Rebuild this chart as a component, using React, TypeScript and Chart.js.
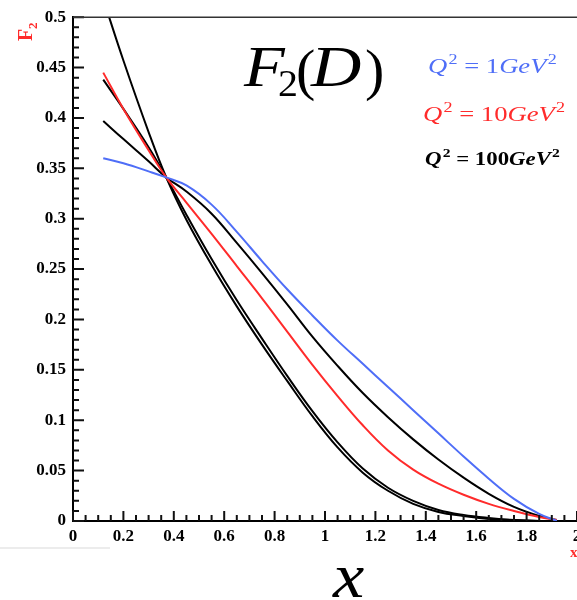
import React, { useEffect, useRef } from "react";
import { Chart, registerables } from "chart.js";

Chart.register(...registerables);

// shared x positions (momentum fraction x)
const xValues = [0.12, 0.2, 0.3, 0.37, 0.45, 0.55, 0.65, 0.75, 0.85, 0.95, 1.05, 1.15, 1.25, 1.35, 1.45, 1.55, 1.65, 1.75, 1.85, 1.92];

// Q^2 = 1 GeV^2 (blue)
const blueQ1 = [0.36, 0.355, 0.347, 0.341, 0.333, 0.314, 0.287, 0.258, 0.23, 0.204, 0.179, 0.156, 0.133, 0.11, 0.087, 0.064, 0.042, 0.022, 0.007, 0.0];
// Q^2 = 10 GeV^2 (red)
const redQ10 = [0.445, 0.409, 0.368, 0.341, 0.316, 0.285, 0.253, 0.221, 0.188, 0.155, 0.124, 0.095, 0.07, 0.051, 0.037, 0.026, 0.017, 0.01, 0.004, 0.001];
// Q^2 = 100 GeV^2 (black)
const blackA = [0.397, 0.379, 0.357, 0.341, 0.327, 0.305, 0.276, 0.246, 0.215, 0.183, 0.154, 0.127, 0.103, 0.081, 0.061, 0.043, 0.027, 0.014, 0.005, 0.001];
// further black curves
const blackB = [0.438, 0.409, 0.371, 0.341, 0.304, 0.26, 0.219, 0.181, 0.144, 0.109, 0.078, 0.052, 0.033, 0.02, 0.011, 0.006, 0.003, 0.001, 0.0, 0.0];
const blackC = [0.518, 0.457, 0.386, 0.341, 0.299, 0.254, 0.213, 0.175, 0.139, 0.104, 0.073, 0.048, 0.03, 0.017, 0.009, 0.005, 0.002, 0.001, 0.0, 0.0];

const xTickLabels = ["0", "0.2", "0.4", "0.6", "0.8", "1", "1.2", "1.4", "1.6", "1.8", "2"];
const yTickLabels = ["0", "0.05", "0.1", "0.15", "0.2", "0.25", "0.3", "0.35", "0.4", "0.45", "0.5"];

const BLUE = "#4f6ef7";
const RED = "#ff2b2b";
const SERIF = '"Liberation Serif", "Times New Roman", serif';

type Run = { t: string; f: string; dy?: number; gap?: number };

function drawRuns(ctx: CanvasRenderingContext2D, x: number, y: number, runs: Run[], color: string, sx: number) {
  ctx.save();
  ctx.translate(x, y);
  ctx.scale(sx, 1);
  ctx.fillStyle = color;
  ctx.textBaseline = "alphabetic";
  ctx.textAlign = "left";
  let cx = 0;
  for (const r of runs) {
    ctx.font = r.f;
    ctx.fillText(r.t, cx, r.dy || 0);
    cx += ctx.measureText(r.t).width + (r.gap || 0);
  }
  ctx.restore();
}

function glyph(ctx: CanvasRenderingContext2D, t: string, font: string, x: number, y: number, sx: number) {
  ctx.save();
  ctx.translate(x, y);
  ctx.scale(sx, 1);
  ctx.font = font;
  ctx.fillText(t, 0, 0);
  ctx.restore();
}

const decorPlugin = {
  id: "decor",
  afterDraw(chart: any) {
    const { ctx, chartArea: a, scales } = chart;
    const xs = scales.x;
    const ys = scales.y;
    ctx.save();
    ctx.strokeStyle = "#111";
    ctx.lineWidth = 2;
    ctx.beginPath();
    for (let i = 0; i <= 50; i++) {
      const py = ys.getPixelForValue(i * 0.01);
      const len = i % 5 === 0 ? 11 : 6;
      ctx.moveTo(a.left, py);
      ctx.lineTo(a.left + len, py);
    }
    for (let i = 0; i <= 40; i++) {
      const px = xs.getPixelForValue(i * 0.05);
      const len = i % 4 === 0 ? 10 : 6;
      ctx.moveTo(px, a.bottom);
      ctx.lineTo(px, a.bottom - len);
    }
    ctx.stroke();
    // top frame
    ctx.strokeStyle = "#333";
    ctx.lineWidth = 1.5;
    ctx.beginPath();
    ctx.moveTo(a.left, a.top);
    ctx.lineTo(a.right + 30, a.top);
    ctx.stroke();
    // faint grey line
    ctx.strokeStyle = "#ececec";
    ctx.lineWidth = 2;
    ctx.beginPath();
    ctx.moveTo(0, 548);
    ctx.lineTo(110, 548);
    ctx.stroke();

    // F_2(D) title
    ctx.fillStyle = "#000";
    ctx.textBaseline = "alphabetic";
    ctx.textAlign = "left";
    glyph(ctx, "F", `italic 58px ${SERIF}`, 244, 86, 1.15);
    glyph(ctx, "2", `38px ${SERIF}`, 278, 96, 1.05);
    glyph(ctx, "(", `58px ${SERIF}`, 296, 89, 1.0);
    glyph(ctx, "D", `italic 58px ${SERIF}`, 311, 86, 1.2);
    glyph(ctx, ")", `58px ${SERIF}`, 365, 89, 1.0);

    // legend texts
    const it = (s: number) => `italic ${s}px ${SERIF}`;
    const up = (s: number) => `${s}px ${SERIF}`;
    drawRuns(ctx, 428, 73, [
      { t: "Q", f: it(22), gap: 1 },
      { t: "2", f: up(15), dy: -9 },
      { t: " = ", f: up(22) },
      { t: "1", f: up(22) },
      { t: "GeV", f: it(22), gap: 1 },
      { t: "2", f: up(15), dy: -9 },
    ], BLUE, 1.21);
    drawRuns(ctx, 423, 121, [
      { t: "Q", f: it(22), gap: 1 },
      { t: "2", f: up(15), dy: -9 },
      { t: " = ", f: up(22) },
      { t: "10", f: up(22) },
      { t: "GeV", f: it(22), gap: 1 },
      { t: "2", f: up(15), dy: -9 },
    ], RED, 1.21);
    drawRuns(ctx, 425, 165, [
      { t: "Q", f: `bold italic 19px ${SERIF}`, gap: 1 },
      { t: "2", f: `bold 13px ${SERIF}`, dy: -8 },
      { t: " = ", f: `bold 19px ${SERIF}` },
      { t: "100", f: `bold 19px ${SERIF}` },
      { t: "GeV", f: `bold italic 19px ${SERIF}`, gap: 1 },
      { t: "2", f: `bold 13px ${SERIF}`, dy: -8 },
    ], "#000", 1.2);

    // red axis labels
    ctx.save();
    ctx.translate(32, 41);
    ctx.rotate(-Math.PI / 2);
    ctx.fillStyle = RED;
    ctx.font = `bold 20px ${SERIF}`;
    ctx.fillText("F", 0, 0);
    ctx.font = `bold 13px ${SERIF}`;
    ctx.fillText("2", 12, 5);
    ctx.restore();
    ctx.fillStyle = RED;
    ctx.font = `bold 15px ${SERIF}`;
    ctx.fillText("x", 570, 557);

    // big x
    ctx.fillStyle = "#000";
    glyph(ctx, "x", `italic 64px ${SERIF}`, 333, 597, 1.1);
    ctx.restore();
  },
};

export default function App() {
  const ref = useRef<HTMLCanvasElement | null>(null);
  useEffect(() => {
    if (!ref.current) return;
    const mk = (data: number[], color: string) => ({
      data: xValues.map((x, i) => ({ x, y: data[i] })),
      borderColor: color,
      backgroundColor: color,
      borderWidth: 2,
      pointRadius: 0,
      tension: 0.4,
      fill: false,
    });
    const chart = new Chart(ref.current, {
      type: "line",
      data: {
        datasets: [
          { label: "Q2=1", ...mk(blueQ1, BLUE) },
          { label: "Q2=10", ...mk(redQ10, RED) },
          { label: "Q2=100", ...mk(blackA, "#000") },
          { label: "b", ...mk(blackB, "#000") },
          { label: "c", ...mk(blackC, "#000") },
        ],
      },
      options: {
        animation: false,
        responsive: false,
        layout: { padding: { left: 0, top: 14, right: 23, bottom: 0 } },
        plugins: { legend: { display: false }, tooltip: { enabled: false }, title: { display: false } },
        scales: {
          x: {
            type: "linear",
            min: 0,
            max: 2,
            grid: { display: false, drawTicks: false },
            border: { display: true, color: "#000", width: 2 },
            ticks: {
              stepSize: 0.2,
              padding: 5,
              color: "#000",
              maxRotation: 0,
              autoSkip: false,
              font: { family: SERIF, size: 17, weight: "bold" },
              callback: (_v: any, i: number) => xTickLabels[i],
            },
            afterFit: (s: any) => { s.height = 79; },
          },
          y: {
            type: "linear",
            min: 0,
            max: 0.5,
            grid: { display: false, drawTicks: false },
            border: { display: true, color: "#000", width: 2 },
            ticks: {
              stepSize: 0.05,
              padding: 7,
              color: "#000",
              autoSkip: false,
              font: { family: SERIF, size: 17, weight: "bold" },
              callback: (_v: any, i: number) => yTickLabels[i],
            },
            afterFit: (s: any) => { s.width = 73; },
          },
        },
      },
      plugins: [decorPlugin],
    });
    return () => chart.destroy();
  }, []);
  return (
    <div style={{ position: "fixed", left: 0, top: 0, width: 577, height: 600, overflow: "hidden", background: "#fff" }}>
      <canvas ref={ref} width={600} height={600} style={{ width: 600, height: 600, display: "block" }} />
    </div>
  );
}
